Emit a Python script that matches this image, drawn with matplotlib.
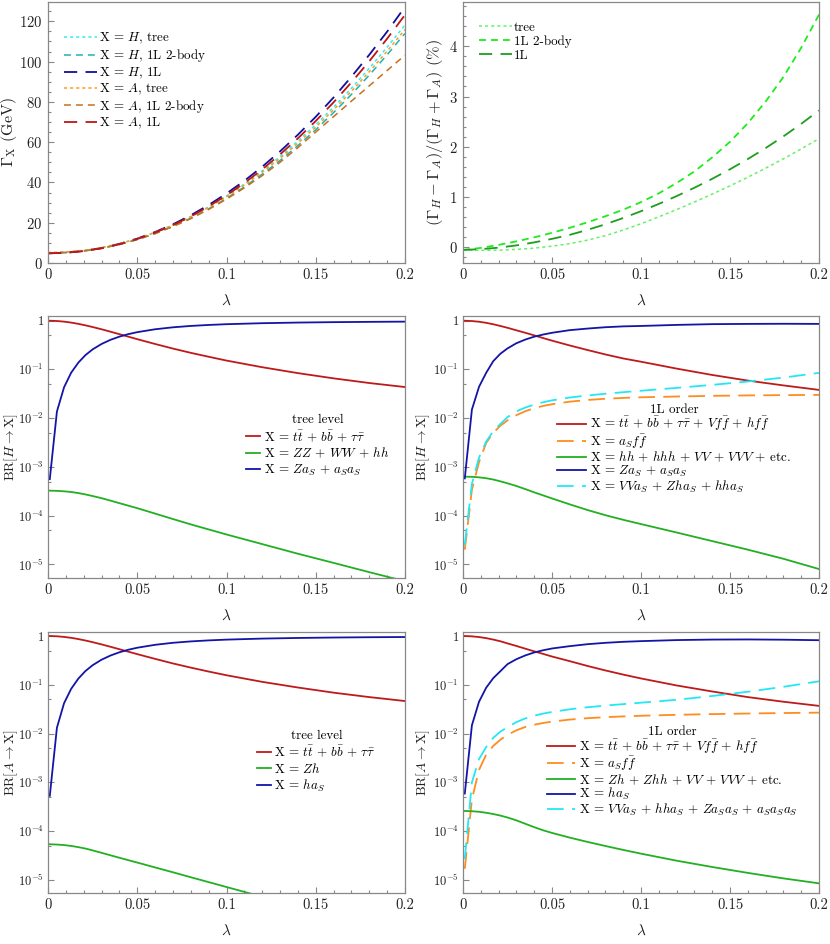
import matplotlib
matplotlib.use("Agg")
import matplotlib.pyplot as plt
from matplotlib.ticker import FixedLocator, FixedFormatter, MultipleLocator, NullFormatter

plt.rcParams['font.family'] = ['cmr10', 'DejaVu Serif']
plt.rcParams['mathtext.fontset'] = 'cm'
plt.rcParams['axes.unicode_minus'] = False
plt.rcParams['lines.scale_dashes'] = False
plt.rcParams['axes.formatter.use_mathtext'] = True

# ---------------- data ----------------
lam_w = [0.00, 0.01, 0.02, 0.03, 0.04, 0.05, 0.06, 0.07, 0.08, 0.09, 0.10,
         0.11, 0.12, 0.13, 0.14, 0.15, 0.16, 0.17, 0.18, 0.19, 0.20]

width_H_tree = [5.0, 5.3, 6.1, 7.5, 9.5, 12.1, 15.2, 18.9, 23.1, 27.9, 33.3,
                39.2, 45.8, 52.8, 60.5, 68.7, 77.4, 86.8, 96.7, 107.2, 118.2]
width_H_2body = [4.8, 5.1, 5.9, 7.3, 9.2, 11.6, 14.6, 18.2, 22.3, 26.9, 32.1,
                 37.8, 44.1, 50.9, 58.3, 66.2, 74.7, 83.7, 93.3, 103.4, 114.0]
width_H_1L = [4.8, 5.1, 6.0, 7.4, 9.5, 12.1, 15.4, 19.2, 23.7, 28.8, 34.5,
              40.8, 47.8, 55.4, 63.7, 72.6, 82.2, 92.5, 103.4, 114.9, 127.2]
width_A_tree = [5.2, 5.5, 6.3, 7.7, 9.6, 12.1, 15.2, 18.8, 22.9, 27.6, 32.9,
                38.7, 45.1, 52.0, 59.5, 67.5, 76.1, 85.3, 95.0, 105.2, 116.0]
width_A_2body = [5.0, 5.3, 6.0, 7.3, 9.2, 11.7, 14.6, 18.1, 22.0, 26.6, 31.7,
                 37.3, 43.4, 50.0, 57.3, 65.0, 72.7, 80.4, 88.0, 95.6, 103.2]
width_A_1L = [4.8, 5.1, 5.9, 7.3, 9.3, 11.9, 15.1, 18.8, 23.1, 28.1, 33.6,
              39.7, 46.5, 53.9, 61.9, 70.5, 79.8, 89.7, 100.2, 111.4, 123.2]

asym_tree = [-0.05, -0.057, -0.055, -0.04, -0.015, 0.025, 0.075, 0.145, 0.235, 0.345, 0.47,
             0.608, 0.752, 0.903, 1.06, 1.224, 1.396, 1.575, 1.762, 1.958, 2.163]
asym_2body = [-0.05, -0.01, 0.05, 0.12, 0.20, 0.29, 0.39, 0.50, 0.62, 0.75, 0.90,
              1.075, 1.28, 1.51, 1.79, 2.10, 2.47, 2.90, 3.39, 3.97, 4.63]
asym_1L = [-0.05, -0.035, -0.005, 0.04, 0.10, 0.17, 0.25, 0.35, 0.46, 0.585, 0.72,
           0.865, 1.02, 1.186, 1.364, 1.554, 1.757, 1.975, 2.208, 2.457, 2.724]

lam_br = [0.001, 0.005, 0.009, 0.013, 0.017, 0.021, 0.025, 0.03, 0.035, 0.04, 0.045,
          0.05, 0.06, 0.07, 0.08, 0.09, 0.10, 0.12, 0.14, 0.16, 0.18, 0.20]

# H, tree level
brH_tree_ff = [0.9994, 0.986, 0.957, 0.914, 0.862, 0.803, 0.742, 0.667, 0.595, 0.529, 0.470,
               0.418, 0.333, 0.268, 0.219, 0.182, 0.152, 0.111, 0.084, 0.0656, 0.0526, 0.0435]
brH_tree_VV = [3.25e-4, 3.22e-4, 3.15e-4, 3.05e-4, 2.9e-4, 2.72e-4, 2.52e-4, 2.28e-4, 2.03e-4, 1.8e-4, 1.6e-4,
               1.42e-4, 1.1e-4, 8.5e-5, 6.6e-5, 5.2e-5, 4.1e-5, 2.6e-5, 1.65e-5, 1.07e-5, 6.9e-6, 4.5e-6]
brH_tree_aS = [5.6e-4, 0.0137, 0.0431, 0.086, 0.138, 0.197, 0.258, 0.333, 0.405, 0.471, 0.530,
               0.582, 0.667, 0.732, 0.781, 0.818, 0.848, 0.889, 0.916, 0.934, 0.947, 0.957]

# H, 1L order
brH_1L_ff = [0.999, 0.984, 0.952, 0.905, 0.845, 0.78, 0.715, 0.635, 0.565, 0.50, 0.44,
             0.39, 0.31, 0.25, 0.203, 0.168, 0.144, 0.104, 0.077, 0.059, 0.047, 0.038]
brH_1L_aff = [2.0e-5, 3.4e-4, 1.25e-3, 3.1e-3, 5.0e-3, 7.0e-3, 9.0e-3, 0.0115, 0.0139, 0.0160, 0.0178,
              0.0193, 0.0218, 0.0236, 0.0250, 0.0260, 0.0268, 0.0278, 0.0287, 0.0293, 0.0297, 0.0300]
brH_1L_VV = [6.3e-4, 6.25e-4, 6.1e-4, 5.85e-4, 5.5e-4, 5.05e-4, 4.6e-4, 4.05e-4, 3.5e-4, 3.0e-4, 2.6e-4,
             2.25e-4, 1.7e-4, 1.3e-4, 1.02e-4, 8.2e-5, 6.7e-5, 4.5e-5, 3.0e-5, 2.0e-5, 1.3e-5, 8.0e-6]
brH_1L_aS = [5.8e-4, 0.0150, 0.044, 0.085, 0.148, 0.21, 0.27, 0.345, 0.41, 0.47, 0.52,
             0.565, 0.64, 0.69, 0.735, 0.765, 0.78, 0.82, 0.85, 0.86, 0.865, 0.86]
brH_1L_VVa = [2.5e-5, 4.5e-4, 1.55e-3, 3.3e-3, 5.4e-3, 7.6e-3, 0.0105, 0.0138, 0.0165, 0.0190, 0.0212,
              0.0232, 0.0265, 0.0292, 0.0317, 0.0341, 0.0365, 0.0418, 0.0482, 0.0565, 0.068, 0.085]

# A, tree level
brA_tree_ff = [0.9995, 0.987, 0.958, 0.917, 0.866, 0.808, 0.748, 0.673, 0.602, 0.536, 0.477,
               0.425, 0.340, 0.274, 0.225, 0.187, 0.157, 0.115, 0.088, 0.069, 0.056, 0.0465]
brA_tree_Zh = [5.40e-5, 5.33e-5, 5.20e-5, 4.99e-5, 4.72e-5, 4.41e-5, 4.05e-5, 3.61e-5, 3.21e-5, 2.86e-5, 2.55e-5,
               2.28e-5, 1.81e-5, 1.44e-5, 1.14e-5, 9.06e-6, 7.19e-6, 4.54e-6, 2.86e-6, 1.81e-6, 1.14e-6, 7.2e-7]
brA_tree_aS = [5.3e-4, 0.0132, 0.042, 0.083, 0.134, 0.192, 0.252, 0.327, 0.398, 0.464, 0.523,
               0.575, 0.660, 0.726, 0.775, 0.813, 0.843, 0.885, 0.912, 0.931, 0.944, 0.953]

# A, 1L order
brA_1L_ff = [0.999, 0.984, 0.952, 0.905, 0.845, 0.78, 0.705, 0.625, 0.55, 0.485, 0.43,
             0.38, 0.305, 0.243, 0.197, 0.162, 0.135, 0.097, 0.073, 0.056, 0.045, 0.037]
brA_1L_aff = [1.7e-5, 4.5e-4, 1.8e-3, 3.7e-3, 5.6e-3, 7.5e-3, 9.4e-3, 0.0117, 0.0137, 0.0152, 0.0165,
              0.0176, 0.0194, 0.0207, 0.0217, 0.0225, 0.0232, 0.0243, 0.0251, 0.0258, 0.0264, 0.0269]
brA_1L_VV = [2.60e-4, 2.57e-4, 2.50e-4, 2.39e-4, 2.25e-4, 2.09e-4, 1.91e-4, 1.67e-4, 1.42e-4, 1.21e-4, 1.045e-4,
             9.23e-5, 7.39e-5, 6.03e-5, 4.98e-5, 4.14e-5, 3.47e-5, 2.49e-5, 1.85e-5, 1.40e-5, 1.08e-5, 8.55e-6]
brA_1L_aS = [5.9e-4, 0.0148, 0.045, 0.087, 0.137, 0.19, 0.265, 0.335, 0.40, 0.46, 0.51,
             0.555, 0.62, 0.68, 0.725, 0.76, 0.785, 0.825, 0.845, 0.85, 0.84, 0.82]
brA_1L_VVa = [2.7e-5, 1.0e-3, 3.0e-3, 5.3e-3, 8.2e-3, 0.011, 0.0135, 0.0172, 0.0205, 0.0233, 0.0257,
              0.0278, 0.0315, 0.0347, 0.0375, 0.0402, 0.0430, 0.0493, 0.059, 0.072, 0.091, 0.118]

x_ticks = [0, 0.05, 0.1, 0.15, 0.2]
x_ticklabels = ["0", "0.05", "0.1", "0.15", "0.2"]
log_ticks = [1e-5, 1e-4, 1e-3, 1e-2, 1e-1, 1]
log_ticklabels = [r"$10^{-5}$", r"$10^{-4}$", r"$10^{-3}$", r"$10^{-2}$", r"$10^{-1}$", "1"]
log_minor = [5e-6, 5e-5, 5e-4, 5e-3, 5e-2, 5e-1]

# ---------------- style ----------------
C_RED = '#BE1A1A'
C_GREEN = '#22B022'
C_BLUE = '#1414A6'
C_ORANGE = '#FF8C1E'
C_CYAN = '#22E8F5'
FRAME = '#888888'
TXT = '#222222'
FS = 9.4
TICK_FS = 10.6
BR_LABEL_FS = 9.8

fig = plt.figure(figsize=(8.3, 9.44), dpi=100)

def frac(l, t, r, b):
    return [l / 830, (944 - b) / 944, (r - l) / 830, (b - t) / 944]

ax_tl = fig.add_axes(frac(48, 2, 405, 263))
ax_tr = fig.add_axes(frac(463, 2, 819, 263))
ax_ml = fig.add_axes(frac(48, 316, 405, 578))
ax_mr = fig.add_axes(frac(463, 316, 819, 578))
ax_bl = fig.add_axes(frac(48, 632, 405, 893))
ax_br = fig.add_axes(frac(463, 632, 819, 893))

def style(ax):
    for s in ['left', 'bottom', 'right', 'top']:
        ax.spines[s].set_color(FRAME)
        ax.spines[s].set_linewidth(0.9)
    ax.tick_params(which='both', direction='in', top=False, right=False,
                   color=FRAME, labelcolor=TXT, labelsize=TICK_FS, width=0.8)
    ax.tick_params(which='major', length=4, pad=4)
    ax.tick_params(which='minor', length=2.2)
    ax.set_xlim(0, 0.2)
    ax.xaxis.set_major_locator(FixedLocator(x_ticks))
    ax.xaxis.set_major_formatter(FixedFormatter(x_ticklabels))
    ax.xaxis.set_minor_locator(MultipleLocator(0.01))
    ax.set_xlabel(r"$\lambda$", fontsize=11, color=TXT, labelpad=8)

def logstyle(ax, ylo, yhi):
    ax.set_yscale('log')
    ax.set_ylim(ylo, yhi)
    ax.yaxis.set_major_locator(FixedLocator(log_ticks))
    ax.yaxis.set_major_formatter(FixedFormatter(log_ticklabels))
    ax.yaxis.set_minor_locator(FixedLocator(log_minor))
    ax.yaxis.set_minor_formatter(NullFormatter())
    ax.tick_params(axis='y', labelsize=9.0, pad=3)

D_TREE = (0, (2.2, 2.2))
D_2B = (0, (5.0, 3.6))
D_1L = (0, (9.5, 6.0))
D_BR = (0, (12.0, 6.0))

# ---- top left ----
ax = ax_tl
style(ax)
lw = 1.1
ax.plot(lam_w, width_H_tree, color='#33EEEE', ls=D_TREE, lw=lw, label=r"X = $H$, tree")
ax.plot(lam_w, width_H_2body, color='#20B2B2', ls=D_2B, lw=lw, label=r"X = $H$, 1L 2-body")
ax.plot(lam_w, width_H_1L, color='#10109A', ls=D_1L, lw=lw + 0.2, label=r"X = $H$, 1L")
ax.plot(lam_w, width_A_tree, color='#FF9A20', ls=D_TREE, lw=lw, label=r"X = $A$, tree")
ax.plot(lam_w, width_A_2body, color='#C8701A', ls=D_2B, lw=lw, label=r"X = $A$, 1L 2-body")
ax.plot(lam_w, width_A_1L, color='#C01515', ls=D_1L, lw=lw + 0.2, label=r"X = $A$, 1L")
ax.set_ylim(0, 129.6)
ax.yaxis.set_major_locator(MultipleLocator(20))
ax.yaxis.set_minor_locator(MultipleLocator(5))
ax.set_ylabel(r"$\Gamma_{\mathrm{X}}$ (GeV)", fontsize=11.5, color=TXT)
ax.yaxis.set_label_coords(-0.08, 0.5)
ax.legend(loc='upper left', bbox_to_anchor=(0.045, 0.888), frameon=False, fontsize=FS,
          handlelength=2.5, handletextpad=0.15, labelspacing=0.08, borderpad=0, borderaxespad=0)

# ---- top right ----
ax = ax_tr
style(ax)
ax.plot(lam_w, asym_tree, color='#66F266', ls=D_TREE, lw=1.1, label="tree")
ax.plot(lam_w, asym_2body, color='#1EEB1E', ls=D_2B, lw=1.3, label="1L 2-body")
ax.plot(lam_w, asym_1L, color='#1E9E1E', ls=D_1L, lw=1.3, label="1L")
ax.set_ylim(-0.31, 4.88)
ax.yaxis.set_major_locator(MultipleLocator(1))
ax.yaxis.set_minor_locator(MultipleLocator(0.2))
ax.set_ylabel(r"$(\Gamma_H-\Gamma_A)/(\Gamma_H+\Gamma_A)$ (%)", fontsize=11.8, color=TXT)
ax.yaxis.set_label_coords(-0.05, 0.5)
ax.legend(loc='upper left', bbox_to_anchor=(0.045, 0.925), frameon=False, fontsize=FS,
          handlelength=2.5, handletextpad=0.15, labelspacing=0.12, borderpad=0, borderaxespad=0)

lw_br = 1.3

# ---- middle left ----
ax = ax_ml
style(ax)
ax.plot(lam_br, brH_tree_ff, color=C_RED, lw=lw_br, label=r"X = $t\bar{t}$ + $b\bar{b}$ + $\tau\bar{\tau}$")
ax.plot(lam_br, brH_tree_VV, color=C_GREEN, lw=lw_br, label=r"X = $ZZ$ + $WW$ + $hh$")
ax.plot(lam_br, brH_tree_aS, color=C_BLUE, lw=lw_br, label=r"X = $Za_S$ + $a_Sa_S$")
logstyle(ax, 5.24e-6, 1.249)
ax.set_ylabel(r"$\mathrm{BR}[H\rightarrow\mathrm{X}]$", fontsize=BR_LABEL_FS, color=TXT)
ax.yaxis.set_label_coords(-0.079, 0.5)
ax.legend(loc='upper left', bbox_to_anchor=(0.555, 0.625), frameon=False, fontsize=FS,
          title="tree level", title_fontsize=FS,
          handlelength=1.1, handletextpad=0.25, labelspacing=0.15, borderpad=0, borderaxespad=0)

# ---- middle right ----
ax = ax_mr
style(ax)
ax.plot(lam_br, brH_1L_ff, color=C_RED, lw=lw_br,
        label=r"X = $t\bar{t}$ + $b\bar{b}$ + $\tau\bar{\tau}$ + $Vf\bar{f}$ + $hf\bar{f}$")
ax.plot(lam_br, brH_1L_aff, color=C_ORANGE, lw=lw_br, ls=D_BR, label=r"X = $a_Sf\bar{f}$")
ax.plot(lam_br, brH_1L_VV, color=C_GREEN, lw=lw_br, label=r"X = $hh$ + $hhh$ + $VV$ + $VVV$ + etc.")
ax.plot(lam_br, brH_1L_aS, color=C_BLUE, lw=lw_br, label=r"X = $Za_S$ + $a_Sa_S$")
ax.plot(lam_br, brH_1L_VVa, color=C_CYAN, lw=lw_br, ls=D_BR, label=r"X = $VVa_S$ + $Zha_S$ + $hha_S$")
logstyle(ax, 5.24e-6, 1.249)
ax.set_ylabel(r"$\mathrm{BR}[H\rightarrow\mathrm{X}]$", fontsize=BR_LABEL_FS, color=TXT)
ax.yaxis.set_label_coords(-0.088, 0.5)
ax.legend(loc='upper left', bbox_to_anchor=(0.265, 0.665), frameon=False, fontsize=FS,
          title="1L order", title_fontsize=FS,
          handlelength=2.2, handletextpad=0.3, labelspacing=-0.05, borderpad=0, borderaxespad=0)

# ---- bottom left ----
ax = ax_bl
style(ax)
ax.plot(lam_br, brA_tree_ff, color=C_RED, lw=lw_br, label=r"X = $t\bar{t}$ + $b\bar{b}$ + $\tau\bar{\tau}$")
ax.plot(lam_br, brA_tree_Zh, color=C_GREEN, lw=lw_br, label=r"X = $Zh$")
ax.plot(lam_br, brA_tree_aS, color=C_BLUE, lw=lw_br, label=r"X = $ha_S$")
logstyle(ax, 5.42e-6, 1.208)
ax.set_ylabel(r"$\mathrm{BR}[A\rightarrow\mathrm{X}]$", fontsize=BR_LABEL_FS, color=TXT)
ax.yaxis.set_label_coords(-0.079, 0.5)
ax.legend(loc='upper left', bbox_to_anchor=(0.585, 0.625), frameon=False, fontsize=FS,
          title="tree level", title_fontsize=FS,
          handlelength=1.1, handletextpad=0.25, labelspacing=0.15, borderpad=0, borderaxespad=0)

# ---- bottom right ----
ax = ax_br
style(ax)
ax.plot(lam_br, brA_1L_ff, color=C_RED, lw=lw_br,
        label=r"X = $t\bar{t}$ + $b\bar{b}$ + $\tau\bar{\tau}$ + $Vf\bar{f}$ + $hf\bar{f}$")
ax.plot(lam_br, brA_1L_aff, color=C_ORANGE, lw=lw_br, ls=D_BR, label=r"X = $a_Sf\bar{f}$")
ax.plot(lam_br, brA_1L_VV, color=C_GREEN, lw=lw_br, label=r"X = $Zh$ + $Zhh$ + $VV$ + $VVV$ + etc.")
ax.plot(lam_br, brA_1L_aS, color=C_BLUE, lw=lw_br, label=r"X = $ha_S$")
ax.plot(lam_br, brA_1L_VVa, color=C_CYAN, lw=lw_br, ls=D_BR,
        label=r"X = $VVa_S$ + $hha_S$ + $Za_Sa_S$ + $a_Sa_Sa_S$")
logstyle(ax, 5.42e-6, 1.208)
ax.set_ylabel(r"$\mathrm{BR}[A\rightarrow\mathrm{X}]$", fontsize=BR_LABEL_FS, color=TXT)
ax.yaxis.set_label_coords(-0.088, 0.5)
ax.legend(loc='upper left', bbox_to_anchor=(0.235, 0.64), frameon=False, fontsize=FS,
          title="1L order", title_fontsize=FS,
          handlelength=2.2, handletextpad=0.3, labelspacing=-0.05, borderpad=0, borderaxespad=0)

fig.savefig("out.png", dpi=100)
